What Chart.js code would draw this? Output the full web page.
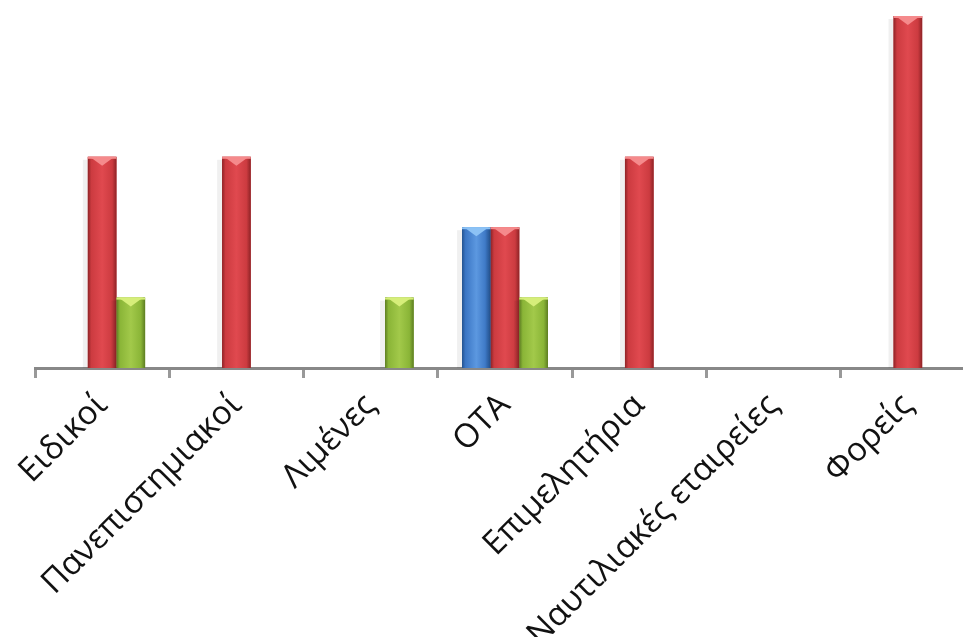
<!DOCTYPE html>
<html>
<head>
<meta charset="utf-8">
<script src="https://cdn.jsdelivr.net/npm/chart.js@4.4.1/dist/chart.umd.min.js"></script>
<style>
  html, body { margin: 0; padding: 0; background: #fff; overflow: hidden; }
  #wrap { width: 975px; height: 637px; position: relative; }
</style>
</head>
<body>
<div id="wrap"><canvas id="myChart"></canvas></div>
<script>
// κατηγορίες και τιμές
const categories = ['Ειδικοί', 'Πανεπιστημιακοί', 'Λιμένες', 'ΟΤΑ', 'Επιμελητήρια', 'Ναυτιλιακές εταιρείες', 'Φορείς'];
const blueValues = [0, 0, 0, 2, 0, 0, 0];
const redValues = [3, 3, 0, 2, 3, 0, 5];
const greenValues = [1, 0, 1, 1, 0, 0, 0];

const palette = {
  blue: { base: '#3b76c4', dark: '#24538f', light: '#5c98e0', top: '#8cc2f5' },
  red: { base: '#cc3b40', dark: '#8e2326', light: '#e0494f', top: '#f58a8c' },
  green: { base: '#8ab537', dark: '#5d7d22', light: '#a2c94a', top: '#d6ee7a' }
};

// σκίαση στις μπάρες (κλίση + τρίγωνο στην κορυφή)
const barShade = {
  id: 'barShade',
  afterDatasetsDraw(chart) {
    const c = chart.ctx;
    chart.data.datasets.forEach((ds, i) => {
      const meta = chart.getDatasetMeta(i);
      const p = palette[ds.key];
      meta.data.forEach(bar => {
        const h = bar.base - bar.y;
        if (h <= 0) return;
        const left = bar.x - bar.width / 2;
        const right = bar.x + bar.width / 2;
        c.save();
        // σκιά αριστερά
        c.fillStyle = 'rgba(0,0,0,0.06)';
        c.fillRect(left - 5, bar.y + 3, 5, h - 3);
        const g = c.createLinearGradient(left, 0, right, 0);
        g.addColorStop(0, p.dark);
        g.addColorStop(0.12, p.base);
        g.addColorStop(0.5, p.light);
        g.addColorStop(0.85, p.base);
        g.addColorStop(1, p.dark);
        c.fillStyle = g;
        c.fillRect(left, bar.y, bar.width, h);
        c.fillStyle = p.top;
        c.beginPath();
        c.moveTo(left + 2, bar.y);
        c.lineTo(right - 2, bar.y);
        c.lineTo(bar.x, bar.y + 9);
        c.closePath();
        c.fill();
        c.fillRect(left, bar.y, bar.width, 2);
        c.restore();
      });
    });
  }
};

const ctx = document.getElementById('myChart').getContext('2d');

new Chart(ctx, {
  type: 'bar',
  data: {
    labels: categories,
    datasets: [
      { key: 'blue', label: 'blue', data: blueValues, backgroundColor: palette.blue.base },
      { key: 'red', label: 'red', data: redValues, backgroundColor: palette.red.base },
      { key: 'green', label: 'green', data: greenValues, backgroundColor: palette.green.base }
    ]
  },
  options: {
    responsive: true,
    maintainAspectRatio: false,
    animation: false,
    layout: { padding: { top: 16, left: 35, right: 0, bottom: 0 } },
    datasets: {
      bar: { categoryPercentage: 0.64, barPercentage: 1.0, borderWidth: 0 }
    },
    plugins: {
      legend: { display: false },
      tooltip: { enabled: false }
    },
    scales: {
      y: {
        display: false,
        min: 0,
        max: 5
      },
      x: {
        afterFit: scale => { scale.height = 269; },
        border: { color: '#888888', width: 3 },
        grid: {
          drawOnChartArea: false,
          drawTicks: true,
          tickLength: 10,
          tickWidth: 3,
          tickColor: '#999999',
          offset: true
        },
        ticks: {
          autoSkip: false,
          minRotation: 45,
          maxRotation: 45,
          padding: 8,
          color: '#111111',
          font: { family: 'Open Sans', size: 33 }
        }
      }
    }
  },
  plugins: [barShade]
});
</script>
</body>
</html>
